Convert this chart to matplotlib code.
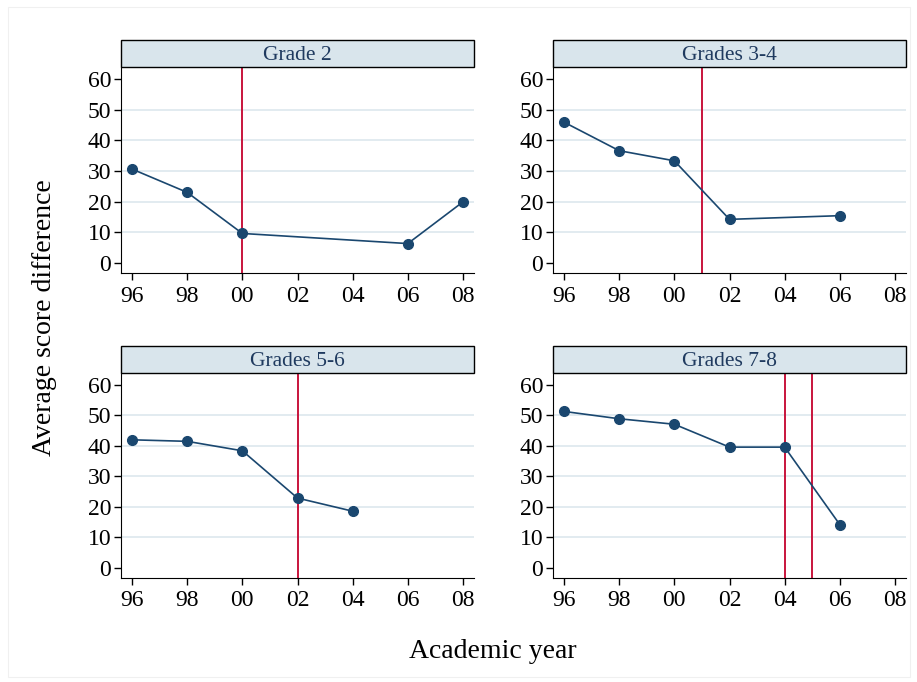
import matplotlib
matplotlib.use("Agg")
import matplotlib.pyplot as plt
from matplotlib.patches import Rectangle

plt.rcParams['font.family'] = ['Liberation Serif', 'DejaVu Serif']

# data
titles = ['Grade 2', 'Grades 3-4', 'Grades 5-6', 'Grades 7-8']
years_g2 = [1996, 1998, 2000, 2006, 2008]
score_g2 = [30.6, 23.0, 9.6, 6.3, 19.9]
years_g34 = [1996, 1998, 2000, 2002, 2006]
score_g34 = [45.9, 36.6, 33.3, 14.2, 15.4]
years_g56 = [1996, 1998, 2000, 2002, 2004]
score_g56 = [42.0, 41.5, 38.4, 22.9, 18.6]
years_g78 = [1996, 1998, 2000, 2002, 2004, 2006]
score_g78 = [51.3, 48.9, 47.1, 39.6, 39.6, 14.2]
policy_years = [[2000], [2001], [2002], [2004, 2005]]

xticks = [1996, 1998, 2000, 2002, 2004, 2006, 2008]
xlabels = [str(y)[2:] for y in xticks]
yticks = [0, 10, 20, 30, 40, 50, 60]

series = [(years_g2, score_g2), (years_g34, score_g34),
          (years_g56, score_g56), (years_g78, score_g78)]

NAVY = '#1a476f'
RED = '#c8143c'
STRIP = '#d9e5ec'
GRID = '#dde8ee'

W, H = 917, 682
fig = plt.figure(figsize=(W / 100, H / 100), dpi=100)
fig.patch.set_facecolor('white')

# faint outer frame
fig.add_artist(Rectangle((8 / W, 1 - 677 / H), 902 / W, 670 / H,
                         transform=fig.transFigure, fill=False,
                         edgecolor='#f0f0f0', linewidth=0.8))

# panel boxes in pixels: left, top, right, bottom
boxes = [(121, 67, 474, 273), (553, 67, 906, 273),
         (121, 373, 474, 578), (553, 373, 906, 578)]
strip_h = 27

for i, (l, t, r, b) in enumerate(boxes):
    ax = fig.add_axes([l / W, 1 - b / H, (r - l) / W, (b - t) / H])
    x, y = series[i]
    for py in policy_years[i]:
        ax.axvline(py, color=RED, linewidth=1.4, zorder=2)
    ax.plot(x, y, '-o', color=NAVY, linewidth=1.2, markersize=7, zorder=3)

    ax.set_xlim(1995.6, 2008.4)
    ax.set_ylim(-3.3, 63.9)
    ax.set_xticks(xticks)
    ax.set_xticklabels(xlabels)
    ax.set_yticks(yticks)
    for g in yticks[1:-1]:
        ax.axhline(g, color=GRID, linewidth=1.2, zorder=1)

    ax.spines['top'].set_visible(False)
    ax.spines['right'].set_visible(False)
    ax.tick_params(direction='out', length=5, width=1, labelsize=17,
                   colors='black')
    ax.tick_params(axis='x', pad=4)
    ax.tick_params(axis='y', pad=2)

    # strip header
    sh = strip_h / (b - t)
    ax.add_patch(Rectangle((0, 1), 1, sh, transform=ax.transAxes,
                           facecolor=STRIP, edgecolor='black',
                           linewidth=1, clip_on=False, zorder=4))
    ax.text(0.5, 1 + sh / 2 - 2 / (b - t), titles[i], transform=ax.transAxes,
            ha='center', va='center', fontsize=15.5, color='#1f3a5f',
            zorder=5)

fig.text(45 / W, 1 - 318 / H, 'Average score difference', rotation=90,
         ha='center', va='center', fontsize=20)
fig.text(493 / W, 1 - 652 / H, 'Academic year', ha='center', va='center',
         fontsize=20)

fig.savefig('out.png', dpi=100)
